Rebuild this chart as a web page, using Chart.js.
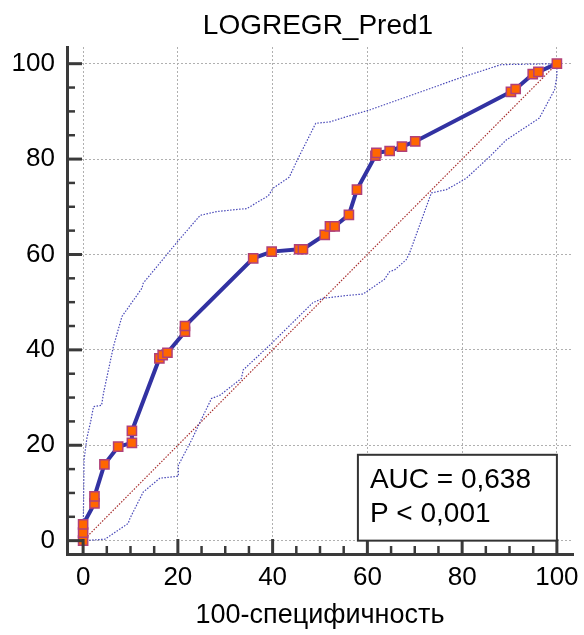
<!DOCTYPE html>
<html>
<head>
<meta charset="utf-8">
<script src="https://cdn.jsdelivr.net/npm/chart.js@4.4.1/dist/chart.umd.min.js"></script>
<style>
  body { margin: 0; background: #fff; }
  canvas { display: block; }
</style>
</head>
<body>
<canvas id="ChartRoc" width="584" height="635"></canvas>
<script>
// Curva ROC (100-especificidad, sensibilidad)
const rocX = [0, 0, 0, 2.4, 2.4, 4.5, 7.4, 10.3, 10.3, 16.1, 16.8, 17.8, 21.5, 21.5, 35.9, 39.8, 45.6, 46.4, 51.0, 52.1, 53.1, 56.1, 57.8, 61.7, 61.9, 64.7, 67.3, 70.1, 90.3, 91.3, 94.9, 96.1, 100]
const rocY = [0, 1.7, 3.4, 7.8, 9.3, 16.0, 19.7, 20.5, 23.0, 38.2, 38.9, 39.4, 43.8, 45.0, 59.2, 60.6, 61.1, 61.1, 64.1, 65.9, 65.9, 68.3, 73.6, 80.7, 81.3, 81.7, 82.6, 83.7, 94.1, 94.7, 97.8, 98.3, 100]

// Bandas de confianza
const superiorX = [0, 0.2, 0.8, 1.6, 2.2, 3.9, 4.3, 6.4, 8.2, 9.2, 12.4, 12.7, 16.2, 20.1, 24.7, 28.2, 33.1, 34.5, 39.1, 40.1, 43.5, 45.4, 49.1, 52.1, 55.6, 60.5, 79.5, 88.2, 100]
const superiorY = [0, 17, 21.5, 25, 28.1, 28.4, 30.9, 40.7, 47.0, 48.4, 52.9, 54.0, 58.2, 62.9, 68.2, 69.0, 69.5, 69.6, 72.3, 73.9, 76.2, 80.2, 87.5, 87.8, 88.9, 90.3, 97.0, 99.8, 100]
const inferiorX = [0, 4.6, 9.5, 9.9, 12.7, 16.2, 20.1, 20.1, 22.9, 24.7, 27.1, 28.9, 33.4, 33.8, 39.4, 48.5, 50.6, 55.6, 59.1, 63.6, 64.7, 65.8, 68.2, 68.9, 73.5, 76.7, 80.9, 85.8, 89.3, 96.3, 99.5, 100, 100]
const inferiorY = [0, 0.3, 3.6, 4.7, 10.2, 13.1, 13.5, 15.8, 21.1, 24.9, 29.8, 30.5, 34.0, 35.8, 41.0, 49.9, 50.8, 51.4, 51.7, 54.8, 56.4, 56.8, 58.9, 60.3, 72.9, 73.6, 76.0, 80.5, 84.0, 88.6, 94.5, 97.3, 100]

const diagonalX = [0, 100]
const diagonalY = [0, 100]

const ticksValores = [0, 20, 40, 60, 80, 100]
const titulo = "LOGREGR_Pred1"
const textoAUC = ["AUC = 0,638", "P < 0,001"]

const fuente = "'Liberation Sans', Arial, sans-serif"
const colorEje = "#3a3a3a"

const puntos = (xs, ys) => xs.map((x, i) => ({ x: x, y: ys[i] }))

// Dibuja título, ticks hacia adentro y el cuadro del AUC
const extrasPlugin = {
    id: 'extras',
    afterDatasetsDraw(chart) {
        const ctx = chart.ctx
        const xs = chart.scales.x
        const ys = chart.scales.y
        const area = chart.chartArea
        ctx.save()

        ctx.fillStyle = "#000"
        ctx.font = "28px " + fuente
        ctx.textAlign = "center"
        ctx.textBaseline = "middle"
        ctx.fillText(titulo, (area.left + area.right) / 2 - 2, 26)

        ctx.strokeStyle = colorEje
        for (let v = 0; v <= 100; v += 5) {
            const mayor = v % 20 === 0
            const largo = mayor ? 15 : 8
            ctx.lineWidth = mayor ? 3 : 2.5
            const px = xs.getPixelForValue(v)
            ctx.beginPath()
            ctx.moveTo(px, area.bottom)
            ctx.lineTo(px, area.bottom - largo)
            ctx.stroke()
            const py = ys.getPixelForValue(v)
            ctx.beginPath()
            ctx.moveTo(area.left, py)
            ctx.lineTo(area.left + largo, py)
            ctx.stroke()
        }

        // Cuadro AUC
        const x0 = xs.getPixelForValue(58)
        const x1 = xs.getPixelForValue(100)
        const y0 = ys.getPixelForValue(18)
        const y1 = ys.getPixelForValue(0)
        ctx.fillStyle = "#fff"
        ctx.fillRect(x0, y0, x1 - x0, y1 - y0)
        ctx.lineWidth = 2
        ctx.strokeStyle = "#333"
        ctx.strokeRect(x0, y0, x1 - x0, y1 - y0)
        ctx.fillStyle = "#000"
        ctx.font = "28px " + fuente
        ctx.textBaseline = "alphabetic"
        ctx.textAlign = "left"
        ctx.fillText(textoAUC[0], x0 + 12, y0 + 33)
        ctx.fillText(textoAUC[1], x0 + 12, y0 + 67)
        ctx.restore()
    }
}

const ejeComun = (tituloEje) => ({
    type: 'linear',
    min: -3.4,
    max: 103.4,
    afterBuildTicks: (scale) => {
        scale.ticks = ticksValores.map(v => ({ value: v }))
    },
    grid: {
        color: "#b0b0b0",
        lineWidth: 1,
        drawTicks: false
    },
    border: {
        display: true,
        color: colorEje,
        width: 3,
        dash: [2, 2]
    },
    ticks: {
        color: "#000",
        font: { family: fuente, size: 26 },
        callback: (v) => v
    },
    title: tituloEje
})

const ejeX = ejeComun({
    display: true,
    text: "100-специфичность",
    color: "#000",
    font: { family: fuente, size: 27 },
    padding: { top: 0, bottom: 3 }
})
ejeX.position = 'bottom'
ejeX.ticks.padding = 8
ejeX.ticks.maxRotation = 0
ejeX.afterFit = (scale) => {
    scale.height = 81
    scale.paddingLeft = 0
    scale.paddingRight = 0
}

const ejeY = ejeComun({ display: false })
ejeY.min = -2.8
ejeY.max = 103.5
ejeY.position = 'left'
ejeY.ticks.padding = 12
ejeY.afterFit = (scale) => {
    scale.width = 67
    scale.paddingTop = 0
    scale.paddingBottom = 0
}

new Chart(document.getElementById("ChartRoc"), {
    type: 'scatter',
    data: {
        datasets: [{
            data: puntos(rocX, rocY),
            showLine: true,
            borderColor: "#3232a2",
            borderWidth: 4,
            pointStyle: 'rect',
            pointRadius: 6.5,
            pointBackgroundColor: "#ff6600",
            pointBorderColor: "#b0407a",
            pointBorderWidth: 1.5,
            order: 0
        }, {
            data: puntos(superiorX, superiorY),
            showLine: true,
            borderColor: "#4848b8",
            borderWidth: 1.2,
            borderDash: [1.5, 1.5],
            pointRadius: 0,
            order: 1
        }, {
            data: puntos(inferiorX, inferiorY),
            showLine: true,
            borderColor: "#4848b8",
            borderWidth: 1.2,
            borderDash: [1.5, 1.5],
            pointRadius: 0,
            order: 1
        }, {
            data: puntos(diagonalX, diagonalY),
            showLine: true,
            borderColor: "#a83030",
            borderWidth: 1.2,
            borderDash: [1.5, 1.5],
            pointRadius: 0,
            order: 2
        }]
    },
    options: {
        responsive: false,
        devicePixelRatio: 1,
        animation: false,
        layout: { padding: { top: 47, right: 11, bottom: 0, left: 0 } },
        plugins: {
            legend: { display: false },
            tooltip: { enabled: false },
            title: { display: false }
        },
        scales: {
            x: ejeX,
            y: ejeY
        }
    },
    plugins: [extrasPlugin]
})
</script>
</body>
</html>
